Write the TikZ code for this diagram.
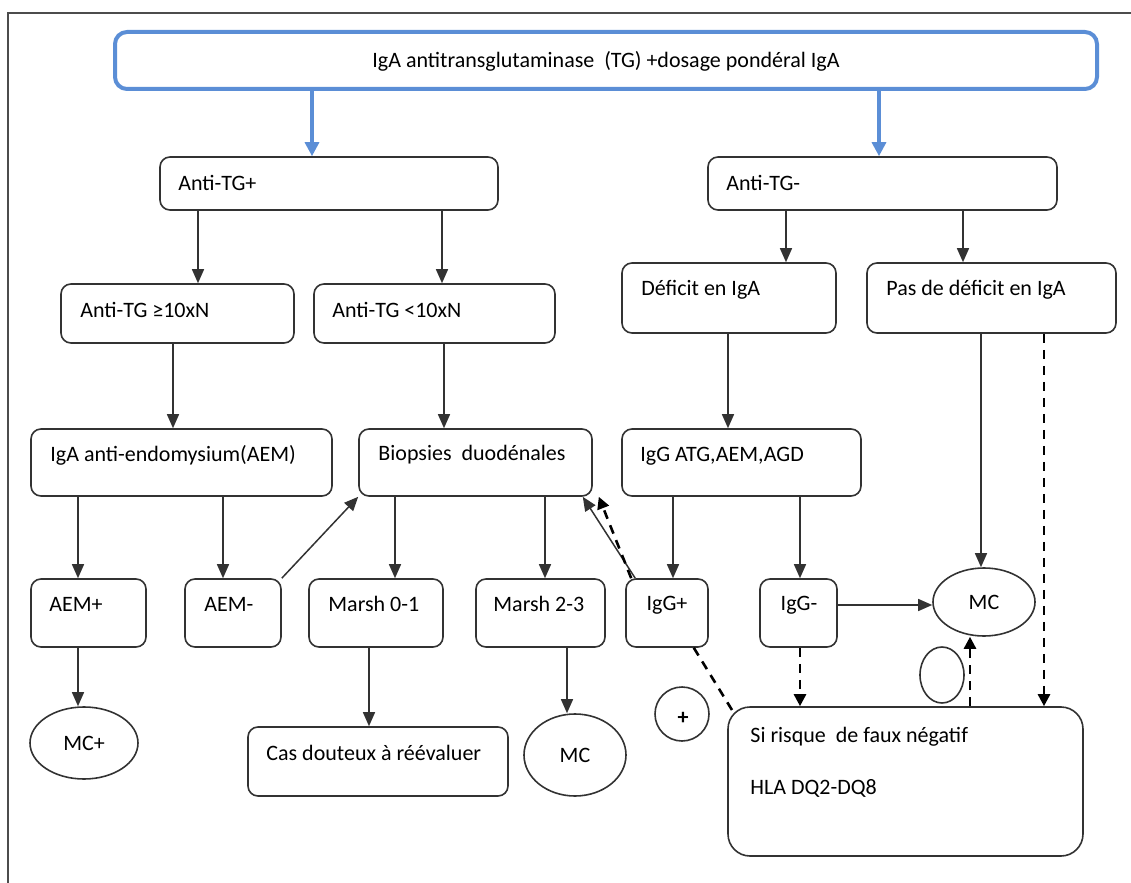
\documentclass[tikz,border=0pt]{standalone}
\usepackage{fontspec}
\setmainfont{Carlito}
\usetikzlibrary{arrows.meta,shapes.geometric}
\definecolor{blueC}{RGB}{91,142,214}
\definecolor{lineC}{RGB}{50,50,50}
\newcommand\bx[6]{\node[box,#6,minimum width={(#4-#2)*0.5pt},minimum height={(#5-#3)*0.5pt}] (#1) at ({(#2+#4)/2},{(#3+#5)/2}) {};}
\newcommand\tx[4]{\node[txt,anchor=west] (#1) at (#2,#3) {#4};}
\begin{document}
\begin{tikzpicture}[x=0.5pt,y=-0.5pt,
  every node/.style={font=\fontsize{11}{13}\selectfont},
  box/.style={draw=lineC,line width=0.8pt,rounded corners=5pt,inner sep=0pt,rectangle},
  ell/.style={draw=lineC,line width=0.8pt,ellipse,inner sep=0pt},
  txt/.style={inner sep=0pt},
  arr/.style={draw=lineC,line width=0.75pt,-{Triangle[length=7pt,width=6pt]}},
  darr/.style={draw=black,line width=1.3pt,dash pattern=on 4.5pt off 3.5pt,-{Triangle[length=6pt,width=6pt]}},
  dline/.style={draw=black,line width=1.3pt,dash pattern=on 4.5pt off 3.5pt},
  barr/.style={draw=blueC,line width=1.6pt,-{Triangle[length=7pt,width=7pt]}}]
\useasboundingbox (0,0) rectangle (1131,883);
% frame
\draw[draw=black!70,line width=0.8pt] (8,883) -- (8,13) -- (1131,13);
% top
\bx{top}{115}{32}{1097}{89}{draw=blueC,line width=2pt,rounded corners=6pt}
\node[txt] (top-t) at (606,61) {IgA antitransglutaminase\ \ (TG) +dosage pondéral IgA};
% boxes
\bx{tgp}{160}{157}{498}{210}{}
\tx{tgp-t}{178}{183}{Anti-TG+}
\bx{tgm}{708}{157}{1057}{210}{}
\tx{tgm-t}{726}{183}{Anti-TG-}
\bx{tga}{61}{284}{294}{343}{}
\tx{tga-t}{80}{310}{Anti-TG ≥10xN}
\bx{tgb}{314}{284}{555}{343}{}
\tx{tgb-t}{332}{310}{Anti-TG <10xN}
\bx{def}{622}{263}{836}{333}{}
\tx{def-t}{641}{290}{Déficit en IgA}
\bx{pdef}{867}{263}{1116}{333}{}
\tx{pdef-t}{886}{290}{Pas de déficit en IgA}
\bx{aem}{31}{429}{332}{496}{}
\tx{aem-t}{50}{455}{IgA anti-endomysium(AEM)}
\bx{bio}{359}{429}{592}{496}{}
\tx{bio-t}{378}{455}{Biopsies\ \ duodénales}
\bx{igg}{622}{429}{861}{496}{}
\tx{igg-t}{640}{456}{IgG ATG,AEM,AGD}
\bx{aemp}{31}{579}{146}{647}{}
\tx{aemp-t}{49}{604}{AEM+}
\bx{aemm}{185}{579}{281}{647}{}
\tx{aemm-t}{204}{604}{AEM-}
\bx{m01}{309}{579}{443}{647}{}
\tx{m01-t}{328}{604}{Marsh 0-1}
\bx{m23}{476}{579}{605}{647}{}
\tx{m23-t}{493}{604}{Marsh 2-3}
\bx{iggp}{626}{579}{708}{647}{}
\node[txt] (iggp-t) at (667,605) {IgG+};
\bx{iggm}{760}{579}{837}{647}{}
\node[txt] (iggm-t) at (799,605) {IgG-};
\bx{cas}{248}{727}{508}{796}{}
\tx{cas-t}{266}{753}{Cas douteux à réévaluer}
\bx{risk}{728}{707}{1083}{856}{rounded corners=11pt}
\tx{risk-t1}{750}{737}{Si risque\ \ de faux négatif}
\tx{risk-t2}{750}{788}{HLA DQ2-DQ8}
% ellipses
\node[ell,minimum width=54pt,minimum height=36pt] (mcp) at (84,743) {MC+};
\node[ell,minimum width=51pt,minimum height=41pt] (mc2) at (575,755) {MC};
\node[ell,minimum width=51pt,minimum height=34pt] (mc) at (984,602) {MC};
\node[ell,minimum width=27pt,minimum height=27pt] (plus) at (682,714) {};
\node[txt] (plus-t) at (683,718) {\textbf{+}};
\node[ell,minimum width=22pt,minimum height=28pt] (small) at (942,675) {};
% blue arrows
\draw[barr] (top.south -| 312,0) -- (tgp.north -| 312,0);
\draw[barr] (top.south -| 879,0) -- (tgm.north -| 879,0);
% solid arrows
\draw[arr] (tgp.south -| 198,0) -- (tga.north -| 198,0);
\draw[arr] (tgp.south -| 442,0) -- (tgb.north -| 442,0);
\draw[arr] (tgm.south -| 786,0) -- (def.north -| 786,0);
\draw[arr] (tgm.south -| 963,0) -- (pdef.north -| 963,0);
\draw[arr] (tga.south -| 173,0) -- (aem.north -| 173,0);
\draw[arr] (tgb.south -| 444,0) -- (bio.north -| 444,0);
\draw[arr] (def.south -| 728,0) -- (igg.north -| 728,0);
\draw[arr] (aem.south -| 78,0) -- (aemp.north -| 78,0);
\draw[arr] (aem.south -| 223,0) -- (aemm.north -| 223,0);
\draw[arr] (bio.south -| 395,0) -- (m01.north -| 395,0);
\draw[arr] (bio.south -| 545,0) -- (m23.north -| 545,0);
\draw[arr] (igg.south -| 673,0) -- (iggp.north -| 673,0);
\draw[arr] (igg.south -| 800,0) -- (iggm.north -| 800,0);
\draw[arr] (aemp.south -| 78,0) -- (mcp.north -| 78,0);
\draw[arr] (m01.south -| 369,0) -- (cas.north -| 369,0);
\draw[arr] (m23.south -| 567,0) -- (mc2.north -| 567,0);
\draw[arr] (aemm.north east) -- (bio.south west);
\draw[arr] ([xshift=5pt]iggp.north west) -- ([xshift=-5pt]bio.south east);
\draw[arr] (pdef.south -| 981,0) -- (mc.north -| 981,0);
\draw[arr] (iggm.east |- 0,605) -- (mc.west |- 0,605);
% dashed
\draw[darr] ([xshift=3pt]iggp.north west) -- ([xshift=3pt]bio.south east);
\draw[dline] ([xshift=-7.5pt]iggp.south east) -- ([xshift=3.2pt,yshift=-3.2pt]risk.north west);
\draw[darr] (iggm.south -| 800,0) -- (risk.north -| 800,0);
\draw[darr] (risk.north -| 970,0) -- (mc.south -| 970,0);
\draw[darr] (pdef.south -| 1044,0) -- (risk.north -| 1044,0);
\end{tikzpicture}
\end{document}
